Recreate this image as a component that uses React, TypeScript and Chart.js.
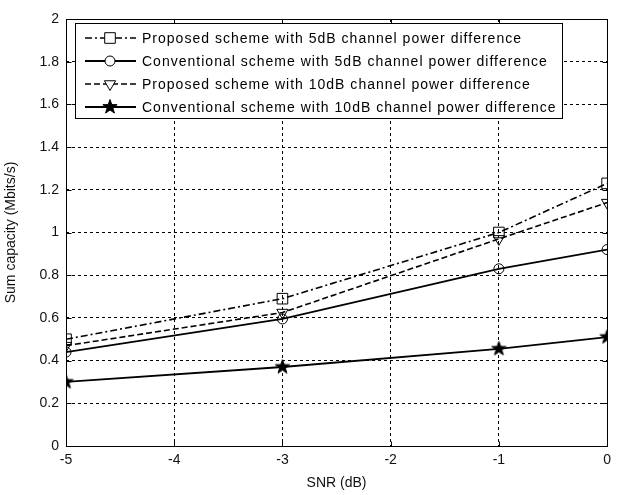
import React, { useEffect, useRef } from "react";
import { Chart, registerables } from "chart.js";

Chart.register(...registerables);

const snr = [-5, -3, -1, 0];
const proposed5 = [0.5, 0.69, 1.0, 1.23];
const conventional5 = [0.44, 0.595, 0.83, 0.92];
const proposed10 = [0.47, 0.625, 0.97, 1.14];
const conventional10 = [0.3, 0.37, 0.455, 0.51];
const seriesLabels = [
  "Proposed scheme with 5dB channel power difference",
  "Conventional scheme with 5dB channel power difference",
  "Proposed scheme with 10dB channel power difference",
  "Conventional scheme with 10dB channel power difference",
];
const xTitle = "SNR (dB)";
const yTitle = "Sum capacity (Mbits/s)";

const FONT = "'Liberation Sans', Arial, Helvetica, sans-serif";

function makeStar(size: number, outer: number, inner: number) {
  const c = document.createElement("canvas");
  c.width = size;
  c.height = size;
  const ctx = c.getContext("2d")!;
  drawStar(ctx, size / 2, size / 2, outer, inner);
  return c;
}

function drawStar(ctx: CanvasRenderingContext2D, cx: number, cy: number, outer: number, inner: number) {
  ctx.save();
  ctx.beginPath();
  for (let i = 0; i < 10; i++) {
    const r = i % 2 === 0 ? outer : inner;
    const a = -Math.PI / 2 + (i * Math.PI) / 5;
    const px = cx + Math.cos(a) * r;
    const py = cy + Math.sin(a) * r;
    if (i === 0) ctx.moveTo(px, py);
    else ctx.lineTo(px, py);
  }
  ctx.closePath();
  ctx.fillStyle = "#000";
  ctx.fill();
  ctx.strokeStyle = "#000";
  ctx.lineWidth = 1;
  ctx.stroke();
  ctx.restore();
}

export default function App() {
  const ref = useRef<HTMLCanvasElement | null>(null);

  useEffect(() => {
    const canvas = ref.current!;
    const star = makeStar(17, 7.5, 3);

    const dashes = [[7, 3, 2, 3], [], [6, 3], []];
    const styles: any[] = ["rect", "circle", "triangle", star];
    const radii = [7.5, 5, 6.5, 8];
    const rotations = [0, 0, 180, 0];
    const widths = [1.6, 1.8, 1.6, 1.8];

    const datasetsData = [proposed5, conventional5, proposed10, conventional10];

    const framePlugin = {
      id: "frameAndLegend",
      afterDraw(chart: any) {
        const { ctx, chartArea } = chart;
        const { left, right, top, bottom } = chartArea;
        const xs = chart.scales.x;
        const ys = chart.scales.y;
        ctx.save();
        ctx.strokeStyle = "#000";
        ctx.lineWidth = 1;
        ctx.setLineDash([]);
        const L = Math.round(left) + 0.5;
        const R = Math.round(right) + 0.5;
        const T = Math.round(top) + 0.5;
        const B = Math.round(bottom) + 0.5;
        ctx.strokeRect(L, T, R - L, B - T);
        // inward ticks
        ctx.beginPath();
        xs.ticks.forEach((t: any) => {
          const px = Math.round(xs.getPixelForValue(t.value)) + 0.5;
          ctx.moveTo(px, B);
          ctx.lineTo(px, B - 5);
          ctx.moveTo(px, T);
          ctx.lineTo(px, T + 5);
        });
        ys.ticks.forEach((t: any) => {
          const py = Math.round(ys.getPixelForValue(t.value)) + 0.5;
          ctx.moveTo(L, py);
          ctx.lineTo(L + 5, py);
          ctx.moveTo(R, py);
          ctx.lineTo(R - 5, py);
        });
        ctx.stroke();

        // legend
        const bx = 75.5, by = 23.5, bw = 487, bh = 95;
        ctx.fillStyle = "#fff";
        ctx.fillRect(bx, by, bw, bh);
        ctx.strokeRect(bx, by, bw, bh);
        ctx.font = `14px ${FONT}`;
        (ctx as any).letterSpacing = "0px";
        const w0 = ctx.measureText(seriesLabels[0]).width;
        const spacing = Math.max(0, (380 - w0) / seriesLabels[0].length);
        seriesLabels.forEach((label, i) => {
          const y = 38 + i * 23;
          ctx.save();
          ctx.lineWidth = widths[i];
          ctx.setLineDash(dashes[i]);
          ctx.beginPath();
          ctx.moveTo(85, y);
          ctx.lineTo(136, y);
          ctx.stroke();
          ctx.restore();
          ctx.save();
          ctx.lineWidth = 1;
          ctx.strokeStyle = "#000";
          ctx.fillStyle = "#fff";
          if (i === 3) {
            drawStar(ctx, 110, y, 7.5, 3);
          } else {
            ctx.beginPath();
            if (i === 0) {
              const s = radii[0] * Math.SQRT1_2;
              ctx.rect(110 - s, y - s, 2 * s, 2 * s);
            } else if (i === 1) {
              ctx.arc(110, y, radii[1], 0, Math.PI * 2);
            } else {
              let rad = Math.PI;
              const r = radii[2];
              ctx.moveTo(110 + Math.sin(rad) * r, y - Math.cos(rad) * r);
              rad += (2 * Math.PI) / 3;
              ctx.lineTo(110 + Math.sin(rad) * r, y - Math.cos(rad) * r);
              rad += (2 * Math.PI) / 3;
              ctx.lineTo(110 + Math.sin(rad) * r, y - Math.cos(rad) * r);
              ctx.closePath();
            }
            ctx.fill();
            ctx.stroke();
          }
          ctx.restore();
          ctx.fillStyle = "#000";
          ctx.textAlign = "left";
          ctx.textBaseline = "middle";
          (ctx as any).letterSpacing = `${spacing}px`;
          ctx.fillText(label, 142, y + 1);
          (ctx as any).letterSpacing = "0px";
        });
        ctx.restore();
      },
    };

    const chart = new Chart(canvas, {
      type: "line",
      data: {
        datasets: datasetsData.map((vals, i) => ({
          label: seriesLabels[i],
          data: snr.map((x, j) => ({ x, y: vals[j] })),
          borderColor: "#000",
          borderWidth: widths[i],
          borderDash: dashes[i],
          pointStyle: styles[i],
          pointRadius: radii[i],
          pointRotation: rotations[i],
          pointBorderColor: "#000",
          pointBorderWidth: 1,
          pointBackgroundColor: "rgba(0,0,0,0)",
          fill: false,
          tension: 0,
        })),
      },
      options: {
        animation: false,
        responsive: false,
        maintainAspectRatio: false,
        layout: { padding: { top: 19, right: 5, left: 0, bottom: 0 } },
        plugins: {
          legend: { display: false },
          tooltip: { enabled: false },
        },
        scales: {
          x: {
            type: "linear",
            min: -5,
            max: 0,
            ticks: {
              stepSize: 1,
              color: "#111",
              font: { family: FONT, size: 14 },
              padding: 6,
              maxRotation: 0,
              callback: (v: any) => String(v),
            },
            grid: { color: "#000", lineWidth: 1, drawTicks: false },
            border: { display: false, dash: [3, 3] },
            title: {
              display: true,
              text: xTitle,
              color: "#111",
              font: { family: FONT, size: 14 },
              padding: { top: 2, bottom: 3 },
            },
            afterFit: (s: any) => {
              s.height = 49;
            },
          },
          y: {
            type: "linear",
            min: 0,
            max: 2,
            ticks: {
              stepSize: 0.2,
              color: "#111",
              font: { family: FONT, size: 14 },
              padding: 7,
              callback: (v: any) => String(Math.round(Number(v) * 10) / 10),
            },
            grid: { color: "#000", lineWidth: 1, drawTicks: false },
            border: { display: false, dash: [3, 3] },
            title: {
              display: true,
              text: yTitle,
              color: "#111",
              font: { family: FONT, size: 14 },
              padding: { top: 3, bottom: 2 },
            },
            afterFit: (s: any) => {
              s.width = 66;
            },
          },
        },
      },
      plugins: [framePlugin],
    } as any);

    return () => chart.destroy();
  }, []);

  return (
    <div style={{ position: "absolute", left: 0, top: 0, width: 617, height: 495, background: "#fff" }}>
      <canvas ref={ref} width={617} height={495} style={{ width: 617, height: 495, display: "block" }} />
    </div>
  );
}
